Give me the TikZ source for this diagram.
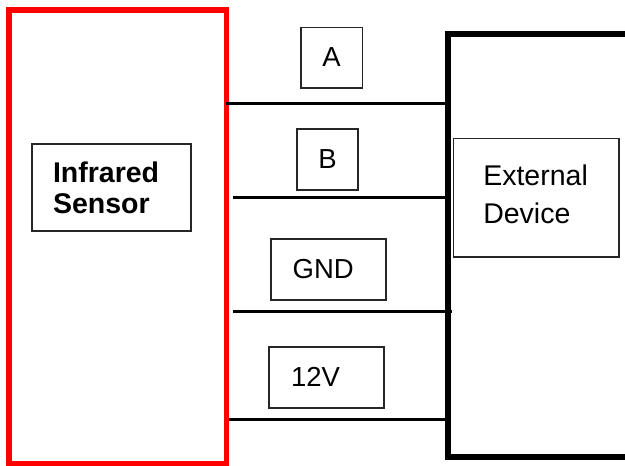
\documentclass[tikz,border=0pt]{standalone}
\usepackage{fontspec}
\setmainfont{Liberation Sans}
\begin{document}
\begin{tikzpicture}[x=1pt,y=-1pt,
  bigbox/.style={rectangle, inner sep=0pt, outer sep=0pt},
  lblbox/.style={rectangle, draw=black!85, line width=1.6pt, inner sep=0pt, outer sep=0pt,
    font=\fontsize{27.5pt}{31pt}\selectfont},
  wire/.style={line width=3pt, black}]
\useasboundingbox (0,0) rectangle (625,466);
\clip (0,0) rectangle (625,466);
% main blocks
\node[bigbox, draw=red, line width=5.5pt, minimum width=217.5pt, minimum height=453.7pt] (sensor) at (117.55,236.65) {};
\node[bigbox, draw=black, line width=5.7pt, minimum width=212pt, minimum height=423pt] (device) at (554,245.5) {};
% wires
\draw[wire, shorten <=-0.7pt, shorten >=1pt] (sensor.east |- 0,103.3) -- (device.west |- 0,103.3);
\draw[wire, shorten <=6.4pt, shorten >=1pt] (sensor.east |- 0,197.3) -- (device.west |- 0,197.3);
\draw[wire, shorten <=6.4pt, shorten >=-3.7pt] (sensor.east |- 0,311) -- (device.west |- 0,311);
\draw[wire, shorten <=3pt, shorten >=1pt] (sensor.east |- 0,419.3) -- (device.west |- 0,419.3);
% wire labels
\node[lblbox, minimum width=61.3pt, minimum height=60.4pt] (la) at (331.65,57.5) {A};
\node[lblbox, minimum width=61pt, minimum height=61pt] (lb) at (327.5,159.5) {B};
\node[lblbox, minimum width=115.3pt, minimum height=61pt, text width=71.3pt, inner xsep=22pt, align=left] (lgnd) at (328.35,269.5) {GND};
\node[lblbox, minimum width=115pt, minimum height=60.7pt, text width=71pt, inner xsep=22pt, align=left] (l12) at (326.5,377.35) {12V};
% inner title boxes
\node[lblbox, minimum width=159pt, minimum height=86.7pt, text width=116.4pt, inner xsep=21.3pt, align=left,
  font=\fontsize{28.5pt}{31pt}\selectfont\bfseries] (sensortitle) at (111.2,187.35) {Infrared\\Sensor};
\node[lblbox, minimum width=165.4pt, minimum height=118.4pt, text width=105.4pt, inner xsep=30pt, align=left,
  font=\fontsize{28.5pt}{38.4pt}\selectfont] (devicetitle) at (536,197.5) {External\\Device\rule[-7pt]{0pt}{7pt}};
\end{tikzpicture}
\end{document}
